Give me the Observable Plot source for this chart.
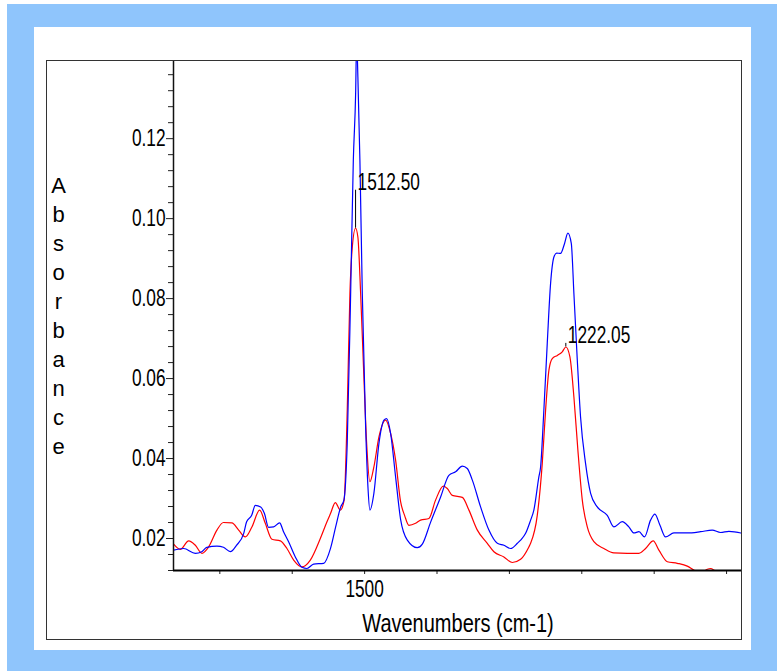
<!DOCTYPE html>
<html><head><meta charset="utf-8">
<script src="https://cdn.jsdelivr.net/npm/d3@7"></script>
<script src="https://cdn.jsdelivr.net/npm/@observablehq/plot@0.6"></script>
<style>
html,body{margin:0;padding:0;background:#fff;}
#page{position:relative;width:777px;height:671px;overflow:hidden;background:#fff;}
#blue{position:absolute;left:7px;top:4px;width:770px;height:667px;background:#8fc5fc;}
#panel{position:absolute;left:34px;top:27px;width:717px;height:623px;background:#fff;}
#chart{position:absolute;left:47px;top:61px;width:696px;height:580px;}
#frame{position:absolute;left:46px;top:60px;width:694px;height:578px;border:1.5px solid #333;pointer-events:none;}
</style></head><body>
<div id="page"><div id="blue"></div><div id="panel"></div><div id="chart"></div><div id="frame"></div></div>
<script>
const xDomain = [1764, 978];
const yDomain = [0.012, 0.1393];
const xTicks = [1700,1600,1500,1400,1300,1200,1100,1000];
const xTickLabels = ["","","1500","","","","",""];
const yTicks = [0.02,0.04,0.06,0.08,0.10,0.12];
const yMinorTicks = [0.012,0.016,0.024,0.028,0.032,0.036,0.044,0.048,0.052,0.056,0.064,0.068,0.072,0.076,0.084,0.088,0.092,0.096,0.104,0.108,0.112,0.116,0.124,0.128,0.132,0.136];
const yLabelLetters = ["A","b","s","o","r","b","a","n","c","e"];
const xLabel = "Wavenumbers (cm-1)";
const peakWavenumber = [1512.50, 1222.05];
const peakText = ["1512.50","1222.05"];
const peakAbs = [0.0976, 0.0679];
const peakLabelAbs = [0.1071, 0.0688];

const blueWavenumber = [1763.8,1750,1733.8,1725,1718,1704,1695,1685.5,1677,1667,
1663,1656,1651,1643.6,1638.5,1632.6,1625.7,1617.4,1612,1605,
1595.7,1586.6,1579.7,1570.4,1556.6,1547,1540,1533,1528.6,1524,
1519.3,1515.6,1512.4,1511,1509.3,1506.5,1503.2,1498.6,1495.4,1492.7,
1487.2,1480.2,1473.3,1469.6,1464.1,1457.2,1450.3,1441,1427.2,1420.3,
1408.8,1395,1383.6,1374.3,1365,1358.2,1351.2,1339.8,1328.3,1316.7,
1307.6,1298.3,1289,1284.5,1277.6,1270.7,1266.2,1259.3,1256.9,1252.4,
1247.7,1243.1,1238.5,1234.8,1229.3,1223.8,1219.2,1214.5,1210.9,1206.2,
1201.7,1194.8,1187.8,1178.6,1164.8,1155.7,1144.1,1135,1128,1121,
1113.3,1105,1099,1092,1084.3,1072.8,1054.3,1035.9,1019.8,1008.3,
996.8,978.3];
const blueAbs = [0.0171,0.0175,0.0163,0.0167,0.0178,0.0181,0.0178,0.0167,0.0183,0.0213,
0.0242,0.0258,0.0283,0.0279,0.0263,0.0228,0.0229,0.0239,0.0217,0.0192,
0.0154,0.0128,0.0125,0.0136,0.0138,0.0176,0.0229,0.0279,0.0296,0.0438,
0.0813,0.1146,0.1313,0.145,0.1354,0.1146,0.0813,0.0479,0.0329,0.0271,
0.0313,0.0438,0.0496,0.0500,0.0463,0.0354,0.0248,0.0196,0.0177,0.0186,
0.0241,0.0304,0.0358,0.0367,0.0381,0.0375,0.0346,0.0279,0.0221,0.0188,
0.0183,0.0175,0.0188,0.0196,0.0213,0.0246,0.0271,0.0354,0.0379,0.0521,
0.0688,0.0838,0.0904,0.0914,0.0913,0.0938,0.0964,0.0938,0.0813,0.0646,
0.0504,0.0388,0.0313,0.0279,0.0258,0.0229,0.0242,0.0229,0.0214,0.0217,
0.0204,0.0246,0.0261,0.0233,0.0204,0.0214,0.0214,0.0217,0.0221,0.0215,
0.0218,0.0213];

const redWavenumber = [1763.8,1754.6,1743,1733.8,1724.7,1715.5,1704,1695,1683.3,1674,
1664.8,1655.7,1645,1637.2,1628,1616.4,1607.3,1598,1586.6,1575,
1561.2,1552,1547,1540.5,1533.6,1528.3,1524,1520.3,1517,1512.5,
1509.3,1505.5,1501,1497.2,1492.7,1487.2,1480.2,1471,1464.1,1457.2,
1450.3,1444.8,1438.8,1429.6,1422.7,1411.2,1402,1391.3,1385.8,1378.9,
1365,1355.9,1344.3,1330.5,1321.4,1307.6,1296,1284.5,1273.1,1270.7,
1261.5,1254.6,1250,1245.4,1240.8,1233.8,1227,1222,1216.4,1210.9,
1205.4,1199.3,1192.4,1183.3,1169.5,1155.7,1137.2,1121,1111.9,1101.3,
1093.5,1081.9,1068.1,1054.3,1045.2,1035.9,1026.7,1022.1,1016.6,1008.3,
978];
const redAbs = [0.0186,0.0173,0.0194,0.0183,0.0163,0.0179,0.0221,0.0240,0.0239,0.0221,
0.0204,0.0229,0.0271,0.0238,0.0198,0.0194,0.0175,0.0146,0.0129,0.0146,
0.0200,0.0242,0.0263,0.0290,0.0271,0.0296,0.0521,0.0813,0.0929,0.0976,
0.0954,0.0813,0.0604,0.0438,0.0342,0.0379,0.0454,0.0496,0.0463,0.0396,
0.0292,0.0258,0.0233,0.0238,0.0246,0.0250,0.0296,0.0331,0.0325,0.0308,
0.0303,0.0271,0.0221,0.0188,0.0167,0.0154,0.0140,0.0148,0.0179,0.0188,
0.0258,0.0388,0.0521,0.0621,0.0650,0.0658,0.0667,0.0679,0.0654,0.0554,
0.0421,0.0296,0.0229,0.0192,0.0175,0.0164,0.0163,0.0163,0.0175,0.0194,
0.0171,0.0142,0.0138,0.0131,0.0121,0.0113,0.0123,0.0125,0.0120,0.0108,
0.0103];

const blue = blueWavenumber.map((w, i) => ({w, a: blueAbs[i]}));
const red = redWavenumber.map((w, i) => ({w, a: redAbs[i]}));
const peaks = peakWavenumber.map((w, i) => ({w, a: peakAbs[i], la: peakLabelAbs[i], t: peakText[i]}));

const FONT = "'Liberation Sans',Arial,sans-serif";

const chart = Plot.plot({
  width: 696, height: 580,
  marginLeft: 126, marginRight: 1, marginTop: 0, marginBottom: 71,
  style: {fontFamily: FONT, color: "#000", background: "transparent", overflow: "visible"},
  x: {domain: xDomain, label: null},
  y: {domain: yDomain, label: null},
  marks: [
    Plot.axisY(yMinorTicks, {tickSize: 5, tickFormat: () => "", label: null, stroke: "#222"}),
    Plot.axisY(yTicks, {tickSize: 7, tickPadding: 1, tickFormat: d3.format(".2f"), label: null, fontSize: 23, stroke: "#222", className: "narrow"}),
    Plot.axisX(xTicks, {tickSize: 4, tickPadding: 6, tickFormat: d => xTickLabels[xTicks.indexOf(d)], label: null, fontSize: 23, stroke: "#222"}),
    Plot.line(red, {x: "w", y: "a", stroke: "#ff0000", strokeWidth: 1.2, curve: "monotone-x", clip: true}),
    Plot.line(blue, {x: "w", y: "a", stroke: "#0000ff", strokeWidth: 1.2, curve: "monotone-x", clip: true}),
    Plot.ruleX(peaks, {x: "w", y1: "a", y2: "la", stroke: "#000", strokeWidth: 1}),
    Plot.text(peaks, {x: "w", y: "la", text: "t", textAnchor: "start", lineAnchor: "bottom", dx: 2, fontSize: 23}),
    Plot.ruleY([yDomain[0]], {stroke: "#000", strokeWidth: 2}),
    Plot.ruleX([xDomain[0]], {stroke: "#111", strokeWidth: 1.5}),
    Plot.text([xLabel], {text: d => d, frameAnchor: "bottom", dy: 61, lineAnchor: "bottom", fontSize: 25}),
    Plot.text([yLabelLetters.join("\n")], {text: d => d, frameAnchor: "top-left", dx: -115, dy: 111, lineAnchor: "top", textAnchor: "middle", lineHeight: 1.318, fontSize: 22})
  ]
});
document.getElementById("chart").appendChild(chart);

// condense single-line labels horizontally (the reference uses a narrow face)
const svgEl = chart.tagName.toLowerCase() === "svg" ? chart : chart.querySelector("svg");
svgEl.querySelectorAll("text").forEach(t => {
  if (t.querySelector("tspan")) return;
  const len = t.getComputedTextLength();
  if (len > 0) {
    const k = t.textContent === xLabel ? 0.8 : 0.75;
    t.setAttribute("textLength", (len * k).toFixed(1));
    t.setAttribute("lengthAdjust", "spacingAndGlyphs");
  }
});
</script>
</body></html>
